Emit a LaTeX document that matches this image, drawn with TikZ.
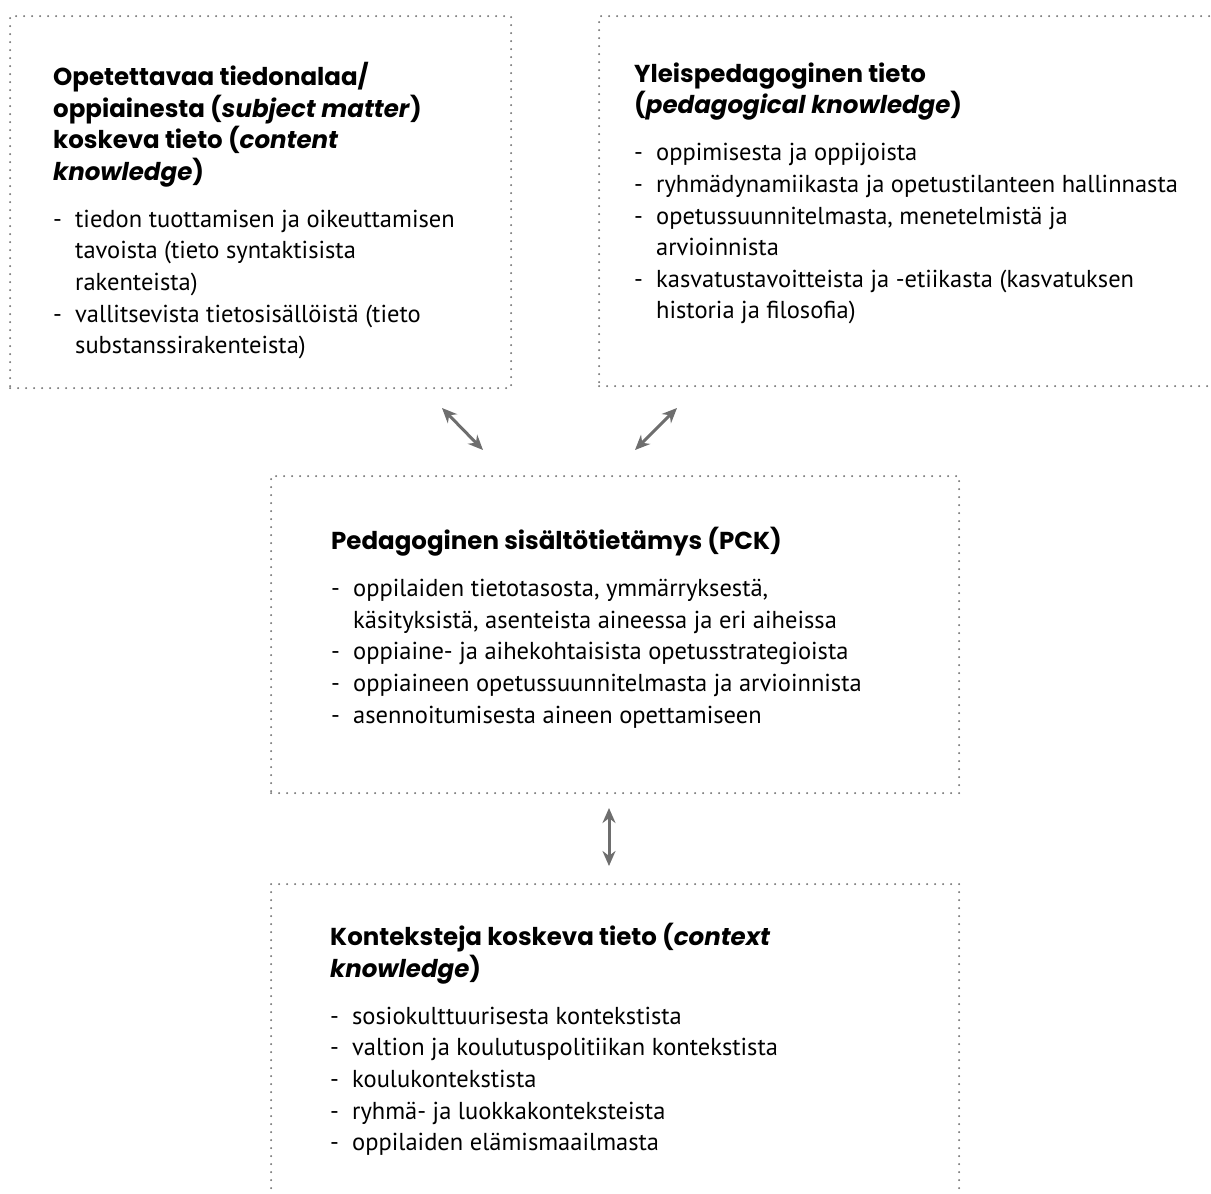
\documentclass[tikz,border=0pt]{standalone}
\usepackage{fontspec}
\setmainfont{PT Sans}
\newfontfamily\hf{Poppins}
\usetikzlibrary{arrows.meta}
\definecolor{dotgray}{RGB}{120,120,120}
\definecolor{arrgray}{RGB}{110,110,110}
\newcommand\itm[1]{\makebox[22pt][l]{-}#1}
\newcommand\cnt[1]{\hspace*{22pt}#1}
\newcommand\fr{\rule{0pt}{20pt}}
\newcommand\hd[1]{{\hf\bfseries\fontsize{24.5}{31.6}\selectfont #1}}
\begin{document}
\begin{tikzpicture}[x=1pt,y=-1pt,
  box/.style={draw=dotgray, line width=2.2pt, line cap=round,
    dash pattern=on 0pt off 8pt, anchor=north west, inner sep=0pt},
  txt/.style={anchor=north west, align=left, inner sep=0pt,
    font=\fontsize{24.5}{31.6}\selectfont},
  arr/.style={draw=arrgray, line width=3pt,
    {Stealth[length=15pt,width=13pt]}-{Stealth[length=15pt,width=13pt]}}]
\useasboundingbox (0,0) rectangle (1211,1194);
% boxes
\node[box, minimum width=501pt, minimum height=372pt] (box1) at (9,15) {};
\node[box, minimum width=700pt, minimum height=370pt] (box2) at (598,15) {};
\node[box, minimum width=688pt, minimum height=317pt] (box3) at (270,475) {};
\node[box, minimum width=688pt, minimum height=400pt] (box4) at (270,883) {};
% texts
\node[txt] (t1) at (53,62) {\fr\hd{Opetettavaa tiedonalaa/}\\
\hd{oppiainesta (\textit{subject matter})}\\
\hd{koskeva tieto (\textit{content}}\\
\hd{\textit{knowledge})}\\[15.5pt]
\itm{tiedon tuottamisen ja oikeuttamisen}\\
\cnt{tavoista (tieto syntaktisista}\\
\cnt{rakenteista)}\\
\itm{vallitsevista tietosisällöistä (tieto}\\
\cnt{substanssirakenteista)}};
\node[txt] (t2) at (634,62) {\fr\hd{Yleispedagoginen tieto}\\
\hd{(\textit{pedagogical knowledge})}\\[15.5pt]
\itm{oppimisesta ja oppijoista}\\
\itm{ryhmädynamiikasta ja opetustilanteen hallinnasta}\\
\itm{opetussuunnitelmasta, menetelmistä ja}\\
\cnt{arvioinnista}\\
\itm{kasvatustavoitteista ja -etiikasta (kasvatuksen}\\
\cnt{historia ja filosofia)}};
\node[txt] (t3) at (331,527) {\fr\hd{Pedagoginen sisältötietämys (PCK)}\\[15.5pt]
\itm{oppilaiden tietotasosta, ymmärryksestä,}\\
\cnt{käsityksistä, asenteista aineessa ja eri aiheissa}\\
\itm{oppiaine- ja aihekohtaisista opetusstrategioista}\\
\itm{oppiaineen opetussuunnitelmasta ja arvioinnista}\\
\itm{asennoitumisesta aineen opettamiseen}};
\node[txt] (t4) at (330,923) {\fr\hd{Konteksteja koskeva tieto (\textit{context}}\\
\hd{\textit{knowledge})}\\[15.5pt]
\itm{sosiokulttuurisesta kontekstista}\\
\itm{valtion ja koulutuspolitiikan kontekstista}\\
\itm{koulukontekstista}\\
\itm{ryhmä- ja luokkakonteksteista}\\
\itm{oppilaiden elämismaailmasta}};
% arrows
\coordinate (a1s) at (442,408);
\coordinate (a1e) at (483,450);
\coordinate (a2s) at (677,408);
\coordinate (a2e) at (635,450);
\coordinate (a3s) at (609,808);
\coordinate (a3e) at (609,866);
\draw[arr] (a1s) -- (a1e);
\draw[arr] (a2s) -- (a2e);
\draw[arr] (a3s) -- (a3e);
\end{tikzpicture}
\end{document}
